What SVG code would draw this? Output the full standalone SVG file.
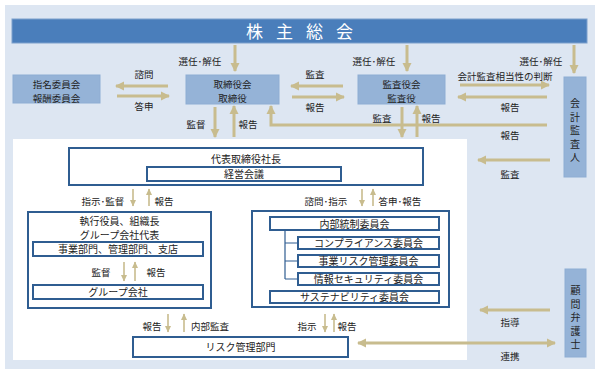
<svg xmlns="http://www.w3.org/2000/svg" width="599" height="374" viewBox="0 0 599 374">
<style>
text{font-family:"Noto Sans CJK JP","Noto Sans",sans-serif;fill:#222;font-size:10px}
.lb{font-size:9.5px;text-anchor:middle}
.bt{text-anchor:middle;font-size:10px}
.b2{text-anchor:middle;font-size:9.5px}
.c{text-anchor:middle}
.fill{fill:#95b3d7;stroke:#8eadd3;stroke-width:1}
.ob{fill:#fff;stroke:#2f5d91;stroke-width:2}
.big{stroke:#c8bc8e;stroke-width:3;fill:none}
.sm{stroke:#c8bc8e;stroke-width:1.6;fill:none}
.tree{stroke:#2f5d91;stroke-width:1.2;fill:none}
</style>
<defs>
<marker id="ah" markerUnits="userSpaceOnUse" markerWidth="10" markerHeight="10" refX="8" refY="5" orient="auto-start-reverse" viewBox="0 0 10 10"><path d="M0,0.5 L9,5 L0,9.5 z" fill="#c8bc8e"/></marker>
<marker id="as" markerUnits="userSpaceOnUse" markerWidth="7" markerHeight="7" refX="6" refY="3.5" orient="auto-start-reverse" viewBox="0 0 7 7"><path d="M0,0.5 L6.5,3.5 L0,6.5 z" fill="#c8bc8e"/></marker>
</defs>
<rect x="5" y="5" width="590" height="364" fill="#dde6f2"/>
<rect x="13" y="139" width="454" height="221" fill="#fff"/>

<g id="shareholders">
<rect x="12" y="19" width="575" height="24" fill="#4a7ebb" stroke="#7da0cc" stroke-width="1"/>
<text x="246" y="38" style="font-size:17px;fill:#fff;letter-spacing:13px">株主総会</text>
</g>

<g id="nomination">
<rect x="13" y="75" width="87" height="28" class="fill"/>
<text x="56.5" y="88" class="b2">指名委員会</text>
<text x="56.5" y="101.5" class="b2">報酬委員会</text>
</g>

<g id="board">
<rect x="186" y="75" width="93" height="29" class="fill"/>
<text x="232.5" y="88" class="b2">取締役会</text>
<text x="232.5" y="101.5" class="b2">取締役</text>
</g>

<g id="auditors">
<rect x="358" y="75" width="87" height="29" class="fill"/>
<text x="401.5" y="88" class="b2">監査役会</text>
<text x="401.5" y="101.5" class="b2">監査役</text>
</g>

<g id="accounting-auditor">
<rect x="564" y="77" width="22" height="100" class="fill"/>
<text class="c"><tspan x="575" y="107">会</tspan><tspan x="575" y="120.5">計</tspan><tspan x="575" y="134">監</tspan><tspan x="575" y="147.5">査</tspan><tspan x="575" y="161">人</tspan></text>
</g>

<g id="legal-advisor">
<rect x="565" y="269" width="21" height="88" class="fill"/>
<text class="c"><tspan x="575.5" y="294">顧</tspan><tspan x="575.5" y="307.5">問</tspan><tspan x="575.5" y="321">弁</tspan><tspan x="575.5" y="334.5">護</tspan><tspan x="575.5" y="348">士</tspan></text>
</g>

<g id="president">
<rect x="69" y="148" width="354" height="37" class="ob"/>
<text x="246" y="163" class="bt">代表取締役社長</text>
<rect x="147" y="167" width="194" height="14" class="ob"/>
<text x="244" y="178" class="bt">経営会議</text>
</g>

<g id="executives">
<rect x="28" y="212" width="183" height="96" class="ob"/>
<text x="119.5" y="225" class="bt">執行役員、組織長</text>
<text x="119.5" y="239" class="bt">グループ会社代表</text>
<rect x="33" y="242" width="170" height="14" class="ob"/>
<text x="118" y="253" class="bt">事業部門、管理部門、支店</text>
<rect x="33" y="285" width="170" height="14" class="ob"/>
<text x="118" y="296" class="bt">グループ会社</text>
</g>

<g id="committees">
<rect x="252" y="211" width="197" height="96" class="ob"/>
<rect x="270" y="217" width="169" height="13" class="ob"/>
<text x="354.5" y="227.5" class="bt">内部統制委員会</text>
<rect x="298" y="237" width="141" height="12" class="ob"/>
<text x="368.5" y="247" class="bt">コンプライアンス委員会</text>
<rect x="298" y="255" width="141" height="12" class="ob"/>
<text x="368.5" y="265" class="bt">事業リスク管理委員会</text>
<rect x="298" y="273" width="141" height="12" class="ob"/>
<text x="368.5" y="283" class="bt">情報セキュリティ委員会</text>
<rect x="270" y="291" width="169" height="12" class="ob"/>
<text x="354.5" y="301" class="bt">サステナビリティ委員会</text>
<path class="tree" d="M285,231 V279 M285,243 H297 M285,261 H297 M285,279 H297"/>
</g>

<g id="risk-management">
<rect x="133" y="337" width="215" height="20" class="ob"/>
<text x="240.5" y="351" class="bt">リスク管理部門</text>
</g>

<g id="connectors">
<line class="big" x1="235" y1="45" x2="235" y2="71" marker-end="url(#ah)"/>
<line class="big" x1="407" y1="45" x2="407" y2="71" marker-end="url(#ah)"/>
<line class="big" x1="574" y1="45" x2="574" y2="73" marker-end="url(#ah)"/>
<line class="big" x1="168" y1="86" x2="116" y2="86" marker-end="url(#ah)"/>
<line class="big" x1="117" y1="96" x2="169" y2="96" marker-end="url(#ah)"/>
<line class="big" x1="343" y1="86" x2="291" y2="86" marker-end="url(#ah)"/>
<line class="big" x1="292" y1="97" x2="344" y2="97" marker-end="url(#ah)"/>
<line class="big" x1="460" y1="85" x2="549" y2="85" marker-end="url(#ah)"/>
<line class="big" x1="547" y1="97" x2="458" y2="97" marker-end="url(#ah)"/>
<polyline class="big" points="547,125 271,125 271,106" marker-end="url(#ah)"/>
<line class="big" x1="550" y1="160" x2="478" y2="160" marker-end="url(#ah)"/>
<line class="big" x1="215" y1="107" x2="215" y2="137" marker-end="url(#ah)"/>
<line class="big" x1="234" y1="137" x2="234" y2="106" marker-end="url(#ah)"/>
<line class="big" x1="402" y1="107" x2="402" y2="137" marker-end="url(#ah)"/>
<line class="big" x1="417" y1="137" x2="417" y2="106" marker-end="url(#ah)"/>
<line class="big" x1="550" y1="310" x2="480" y2="310" marker-end="url(#ah)"/>
<line class="big" x1="358" y1="343" x2="555" y2="343" marker-start="url(#ah)" marker-end="url(#ah)"/>
<line class="sm" x1="133" y1="189" x2="133" y2="206" marker-end="url(#as)"/>
<line class="sm" x1="149" y1="206" x2="149" y2="189" marker-end="url(#as)"/>
<line class="sm" x1="362" y1="189" x2="362" y2="206" marker-end="url(#as)"/>
<line class="sm" x1="373" y1="206" x2="373" y2="189" marker-end="url(#as)"/>
<line class="sm" x1="124" y1="262" x2="124" y2="281" marker-end="url(#as)"/>
<line class="sm" x1="135" y1="281" x2="135" y2="262" marker-end="url(#as)"/>
<line class="sm" x1="168" y1="314" x2="168" y2="332" marker-end="url(#as)"/>
<line class="sm" x1="184" y1="332" x2="184" y2="314" marker-end="url(#as)"/>
<line class="sm" x1="325" y1="314" x2="325" y2="332" marker-end="url(#as)"/>
<line class="sm" x1="334" y1="332" x2="334" y2="314" marker-end="url(#as)"/>
</g>

<g id="labels">
<text x="200" y="65" class="lb">選任･解任</text>
<text x="374" y="65" class="lb">選任･解任</text>
<text x="541" y="65" class="lb">選任･解任</text>
<text x="144" y="78" class="lb">諮問</text>
<text x="144" y="110" class="lb">答申</text>
<text x="315" y="78" class="lb">監査</text>
<text x="315" y="111" class="lb">報告</text>
<text x="505" y="80" class="lb">会計監査相当性の判断</text>
<text x="510" y="111" class="lb">報告</text>
<text x="510" y="139" class="lb">報告</text>
<text x="510" y="178" class="lb">監査</text>
<text x="196" y="128" class="lb">監督</text>
<text x="248" y="128" class="lb">報告</text>
<text x="382" y="122" class="lb">監査</text>
<text x="431" y="122" class="lb">報告</text>
<text x="103" y="205" class="lb">指示･監督</text>
<text x="164" y="205" class="lb">報告</text>
<text x="326" y="205" class="lb">諮問･指示</text>
<text x="400" y="205" class="lb">答申･報告</text>
<text x="101" y="276" class="lb">監督</text>
<text x="156" y="276" class="lb">報告</text>
<text x="152" y="330" class="lb">報告</text>
<text x="210" y="330" class="lb">内部監査</text>
<text x="307" y="330" class="lb">指示</text>
<text x="347" y="330" class="lb">報告</text>
<text x="510" y="326" class="lb">指導</text>
<text x="510" y="360" class="lb">連携</text>
</g>
</svg>
